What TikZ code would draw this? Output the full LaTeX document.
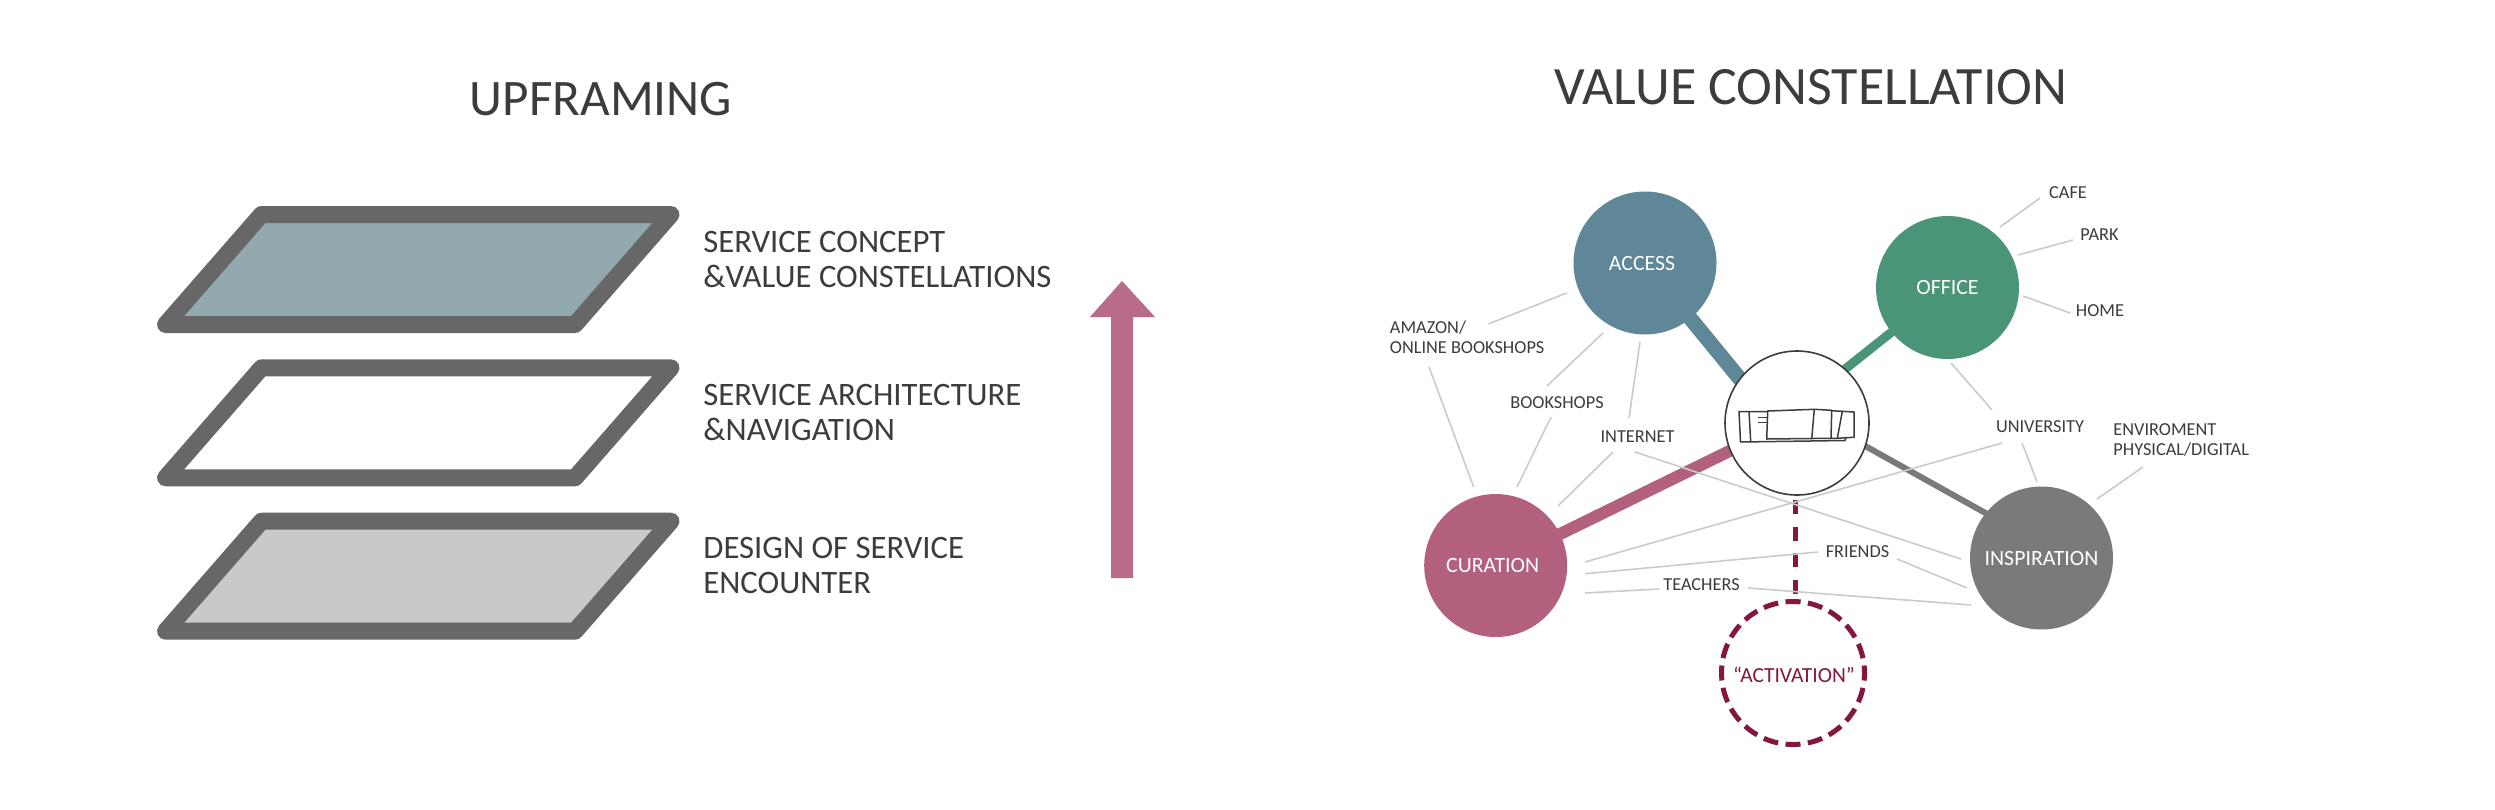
\documentclass[tikz,border=0pt]{standalone}
\usepackage{fontspec}
\setmainfont{Carlito}
\usetikzlibrary{backgrounds}
\definecolor{ink}{HTML}{3C3C3E}
\definecolor{plateedge}{HTML}{676767}
\definecolor{platetop}{HTML}{93A9B0}
\definecolor{platelow}{HTML}{C8C9CA}
\definecolor{accessc}{HTML}{5F8797}
\definecolor{officec}{HTML}{4A9578}
\definecolor{curationc}{HTML}{B35F7E}
\definecolor{inspirc}{HTML}{7A7A7A}
\definecolor{activc}{HTML}{85163F}
\definecolor{arrowc}{HTML}{B86B8A}
\definecolor{wirec}{HTML}{CBCBCB}
\tikzset{
  x=0.5pt,y=-0.5pt,
  plate/.style={draw=plateedge,line width=8.5pt,line join=round},
  title/.style={text=ink,inner sep=0pt,font=\fontsize{27pt}{32pt}\selectfont},
  side/.style={text=ink,inner sep=0pt,anchor=west,align=left,font=\fontsize{16.35pt}{17.6pt}\selectfont},
  lab/.style={text=ink,inner sep=0pt,font=\fontsize{9.15pt}{10pt}\selectfont},
  disc/.style={circle,minimum size=71.5pt,inner sep=0pt,text=white,font=\fontsize{10.9pt}{13pt}\selectfont},
  wire/.style={draw=wirec,line width=0.8pt},
  glyph/.style={draw=ink,line width=0.75pt,line join=round},
}
\newcommand\wire[3]{\coordinate (#1-a) at (#2); \coordinate (#1-b) at (#3); \draw[wire] (#1-a) -- (#1-b);}
\begin{document}
\begin{tikzpicture}
\node[title,font=\fontsize{25.6pt}{32pt}\selectfont] (upframing) at (601,99) {UPFRAMING};
\node[title] (constellation) at (1811,87.5) {VALUE CONSTELLATION};

% plates
\draw[plate,fill=platetop] (165.5,324.5) -- (261.5,214.5) -- (671,214.5) -- (575,324.5) -- cycle;
\draw[plate,fill=white] (165.5,477.8) -- (261.5,367.8) -- (671,367.8) -- (575,477.8) -- cycle;
\draw[plate,fill=platelow] (165.5,631.2) -- (261.5,521.2) -- (671,521.2) -- (575,631.2) -- cycle;

\node[side] (concept) at (703,259.5) {SERVICE CONCEPT\\\&VALUE CONSTELLATIONS};
\node[side] (architecture) at (703,412.5) {SERVICE ARCHITECTURE\\\&NAVIGATION};
\node[side] (encounter) at (703,565.5) {DESIGN OF SERVICE\\ENCOUNTER};

% upward arrow
\fill[arrowc] (1111,578) -- (1111,317) -- (1090,317) -- (1122,281) -- (1155,317) -- (1133,317) -- (1133,578) -- cycle;

% discs
\node[disc,fill=accessc] (access) at (1645,263) {\kern-3pt ACCESS};
\node[disc,fill=officec] (office) at (1947.5,287.5) {OFFICE};
\node[disc,fill=curationc] (curation) at (1495.7,565.5) {\kern-3pt CURATION};
\node[disc,fill=inspirc] (inspiration) at (2041.5,558) {INSPIRATION};
\node[disc,draw=ink,fill=white,line width=0.8pt,minimum size=72pt] (hub) at (1797,423) {};
\node[disc,draw=activc,text=activc,line width=2.5pt,dash pattern=on 7.5pt off 3.73pt,dash phase=3.75pt,rotate=90] (activation) at (1793,673) {};
\node[inner sep=0pt,text=activc,font=\fontsize{10.75pt}{13pt}\selectfont] (activlabel) at (1794,675) {“ACTIVATION”};

% thick links, under the discs
\coordinate (hubA) at (1776,423);
\coordinate (hubO) at (1810,397);
\coordinate (hubC) at (1797,418);
\coordinate (hubI) at (1815,418);
\coordinate (inspI) at (2041,544);
\coordinate (activtop) at (1795,594);
\coordinate (hubfoot) at (1795,500);
\begin{scope}[on background layer]
  \path[use as bounding box,fill=white] (0,0) rectangle (2495,809);
  \draw[accessc,line width=7.5pt] (access.center) -- (hubA);
  \draw[officec,line width=4.5pt] (office.center) -- (hubO);
  \draw[curationc,line width=6pt] (curation.center) -- (hubC);
  \draw[inspirc,line width=3pt] (hubI) -- (inspI);
\end{scope}
\draw[activc,line width=2.5pt,dash pattern=on 7pt off 6.3pt] (hubfoot) -- (activtop);

% labels
\node[lab,align=left,anchor=west] (amazon) at (1389.5,337) {AMAZON/\\ONLINE BOOKSHOPS};
\node[lab] (bookshops) at (1557,402.7) {BOOKSHOPS};
\node[lab] (internet) at (1637.5,436.7) {INTERNET};
\node[lab] (friends) at (1857.5,551.7) {FRIENDS};
\node[lab] (teachers) at (1701.5,585) {TEACHERS};
\node[lab] (university) at (2040,426.7) {UNIVERSITY};
\node[lab,align=left,anchor=west] (enviroment) at (2113,440) {ENVIROMENT\\PHYSICAL/DIGITAL};
\node[lab] (cafe) at (2068,193) {CAFE};
\node[lab] (park) at (2099.5,235) {PARK};
\node[lab] (home) at (2100,311) {HOME};

% thin connectors
\wire{amazon-access}{1488.5,324}{1566.6,293}
\wire{amazon-curation}{1429,367}{1473.6,487}
\wire{bookshops-access}{1547,386}{1603,333}
\wire{bookshops-curation}{1551,417}{1517,487}
\wire{internet-access}{1629,418}{1640,342}
\wire{internet-curation}{1613,452}{1558,506}
\wire{internet-inspiration}{1635,452}{1961,559}
\wire{university-curation}{2002,443}{1585,562}
\wire{friends-curation}{1818,552}{1585,573.7}
\wire{friends-inspiration}{1897,559}{1967,588}
\wire{teachers-curation}{1659,589}{1585,593}
\wire{teachers-inspiration}{1748,588}{1971,605}
\wire{cafe-office}{2040,198}{2000,227}
\wire{park-office}{2073,240}{2018,255}
\wire{home-office}{2070,313}{2023,296}
\wire{university-office}{1992,410}{1951,363}
\wire{university-inspiration}{2022,443}{2037,482}
\wire{enviroment-inspiration}{2143,467}{2097,499}

% building glyph inside the hub
\draw[glyph] (1767.5,411.5) -- (1739,411.5) -- (1740.5,442) -- (1845,440.5) -- (1846,437.7) -- (1854,437.3) -- (1854,412) -- (1842.3,411.3) -- (1831.7,410.8);
\draw[glyph] (1767.7,411) -- (1814.3,409.3) -- (1831.7,410.3) -- (1831,438.3) -- (1766.7,439) -- cycle;
\draw[glyph] (1749,411.5) -- (1750.7,442);
\draw[glyph] (1814.3,409.3) -- (1811.7,439);
\draw[glyph] (1842.3,411.3) -- (1837.3,438.3) -- (1831,438.3);
\draw[glyph] (1837.3,438.3) -- (1846,437.7);
\draw[glyph] (1758.3,417.3) -- (1768.3,417.3);
\draw[glyph] (1758.3,422.3) -- (1768,422.3);
\end{tikzpicture}
\end{document}
